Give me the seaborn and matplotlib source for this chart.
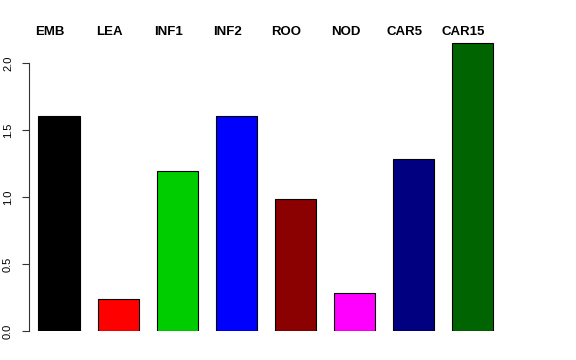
import matplotlib
matplotlib.use("Agg")
import matplotlib.pyplot as plt
import matplotlib.transforms as mtransforms
import seaborn as sns
import pandas as pd

categories = ["EMB", "LEA", "INF1", "INF2", "ROO", "NOD", "CAR5", "CAR15"]
values = [1.604, 0.239, 1.194, 1.604, 0.985, 0.284, 1.284, 2.149]
colors = ["#000000", "#FF0000", "#00CD00", "#0000FF", "#8B0000", "#FF00FF", "#000080", "#006400"]
yticks = [0.0, 0.5, 1.0, 1.5, 2.0]
ytick_labels = ["0.0", "0.5", "1.0", "1.5", "2.0"]

sns.set_style("white")
plt.rcParams["font.family"] = ["Liberation Sans", "DejaVu Sans"]
plt.rcParams["text.color"] = "black"
plt.rcParams["ytick.color"] = "black"
plt.rcParams["ytick.labelcolor"] = "black"

df = pd.DataFrame({"tissue": categories, "value": values})

fig = plt.figure(figsize=(5.76, 3.6), dpi=100)
ax = fig.add_axes([0.0503, 0.0806, 0.852, 0.819])
sns.barplot(data=df, x="tissue", y="value", hue="tissue", order=categories,
            hue_order=categories, palette=colors, dodge=False, width=0.695,
            saturation=1, edgecolor="black", linewidth=0.8, legend=False, ax=ax)

ax.set_xlim(-0.508, 7.8)
ax.set_ylim(0, 2.2)
ax.set_xlabel("")
ax.set_ylabel("")
ax.set_xticks([])
for s in ["top", "right", "bottom"]:
    ax.spines[s].set_visible(False)
ax.spines["left"].set_bounds(0, 2.0)
ax.spines["left"].set_color("#333333")
ax.spines["left"].set_linewidth(0.8)
ax.set_yticks(yticks)
ax.set_yticklabels(ytick_labels, rotation=90, va="center", fontsize=8, color="black")
ax.tick_params(axis="y", direction="out", length=5, width=0.8, pad=6.5,
               color="#333333", left=True)

trans = mtransforms.blended_transform_factory(ax.transData, ax.transAxes)
for i, c in enumerate(categories):
    ax.text(i - 0.15, 1.004, c, transform=trans, ha="center", va="baseline",
            fontsize=9.5, fontweight="bold", color="black", clip_on=False)

fig.savefig("out.png", dpi=100)
